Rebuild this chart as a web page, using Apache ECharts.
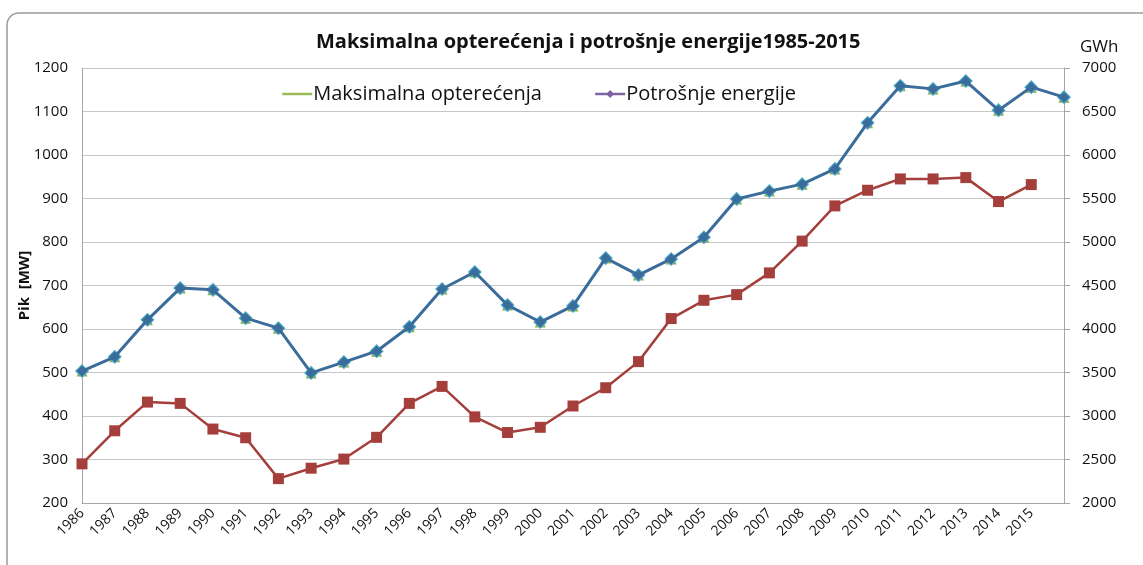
<!DOCTYPE html>
<html>
<head>
<meta charset="utf-8">
<script src="https://cdn.jsdelivr.net/npm/echarts@6/dist/echarts.min.js"></script>
<style>
html,body{margin:0;padding:0;background:#fff;}
#chart{width:1143px;height:565px;}
</style>
</head>
<body>
<div id="chart"></div>
<script>
// Category labels (x axis); the final slot carries no label in the original
var years = ['1986','1987','1988','1989','1990','1991','1992','1993','1994','1995',
  '1996','1997','1998','1999','2000','2001','2002','2003','2004','2005',
  '2006','2007','2008','2009','2010','2011','2012','2013','2014','2015'];
var extraSlot = [''];

// Peak load [MW] (left axis)
var peakMW = [290, 366, 432, 429, 370, 350, 256, 280, 301, 351,
  429, 468, 398, 362, 374, 423, 465, 525, 624, 666,
  679, 729, 802, 883, 919, 945, 945, 948, 893, 932];

// Energy consumption [GWh] (right axis), 31 points
var energyGWh = [3517, 3680, 4105, 4470, 4450, 4125, 4010, 3495, 3620, 3745,
  4025, 4460, 4655, 4275, 4080, 4265, 4815, 4620, 4805, 5055,
  5495, 5585, 5665, 5840, 6370, 6795, 6760, 6850, 6515, 6780, 6665];

var leftTicks = {min: 200, max: 1200, interval: 100};
var rightTicks = {min: 2000, max: 7000, interval: 500};

var chart = echarts.init(document.getElementById('chart'), null, {renderer: 'canvas'});
var FONT = '"Open Sans", "Noto Sans", sans-serif';
var plain = function (v) { return String(v); };

chart.setOption({
  animation: false,
  backgroundColor: '#ffffff',
  graphic: [{
    type: 'rect',
    shape: {x: 7, y: 13, width: 1160, height: 600, r: 12},
    style: {fill: 'none', stroke: '#9a9a9a', lineWidth: 1.5},
    silent: true,
    z: -1
  }],
  title: {
    text: 'Maksimalna opterećenja i potrošnje energije1985-2015',
    left: 311,
    top: 27,
    textStyle: {fontFamily: FONT, fontWeight: 'bold', fontSize: 20, color: '#111'}
  },
  legend: {
    top: 79,
    left: 276,
    itemGap: 52,
    itemWidth: 30,
    itemHeight: 10,
    textStyle: {fontFamily: FONT, fontSize: 20, color: '#111', padding: [0, 0, 0, -4]},
    data: [
      {name: 'Maksimalna opterećenja', lineStyle: {color: '#9bbb59', width: 2.5}, itemStyle: {opacity: 0}},
      {name: 'Potrošnje energije', lineStyle: {color: '#8064a2', width: 2.5}, itemStyle: {color: '#8064a2'}, icon: 'inherit'}
    ]
  },
  grid: {left: 82, right: 79, top: 68, bottom: 62, containLabel: false},
  xAxis: {
    type: 'category',
    boundaryGap: false,
    data: years.concat(extraSlot),
    axisLine: {lineStyle: {color: '#a6a6a6', width: 1}},
    axisTick: {show: false},
    axisLabel: {interval: 0, rotate: 45, fontFamily: FONT, fontSize: 14, color: '#111', margin: 8},
    splitLine: {show: false}
  },
  yAxis: [{
    type: 'value',
    min: leftTicks.min, max: leftTicks.max, interval: leftTicks.interval,
    name: 'Pik  [MW]',
    nameLocation: 'middle',
    nameGap: 50,
    nameMoveOverlap: false,
    nameTextStyle: {fontFamily: FONT, fontWeight: 'bold', fontSize: 15, color: '#111'},
    axisLine: {show: true, lineStyle: {color: '#a6a6a6', width: 1}},
    axisTick: {show: false},
    axisLabel: {fontFamily: FONT, fontSize: 15, color: '#111', margin: 14, formatter: plain},
    splitLine: {show: true, lineStyle: {color: '#c6c6c6', width: 1.2}}
  }, {
    type: 'value',
    min: rightTicks.min, max: rightTicks.max, interval: rightTicks.interval,
    name: 'GWh',
    nameLocation: 'end',
    nameGap: 12,
    nameTextStyle: {fontFamily: FONT, fontSize: 17, color: '#111', align: 'left', padding: [0, 0, 0, 16]},
    position: 'right',
    axisLine: {show: true, lineStyle: {color: '#a6a6a6', width: 1}},
    axisTick: {show: true, length: 6, lineStyle: {color: '#a6a6a6'}},
    axisLabel: {fontFamily: FONT, fontSize: 15, color: '#111', margin: 18, formatter: plain},
    splitLine: {show: false}
  }],
  series: [{
    name: 'marker-under-green',
    type: 'line',
    yAxisIndex: 1,
    data: energyGWh,
    symbol: 'triangle',
    symbolSize: 11,
    lineStyle: {opacity: 0},
    itemStyle: {color: '#8fb04a'},
    z: 1,
    silent: true
  }, {
    name: 'marker-under-cyan',
    type: 'line',
    yAxisIndex: 1,
    data: energyGWh,
    symbol: 'rect',
    symbolRotate: 45,
    symbolSize: 10,
    lineStyle: {opacity: 0},
    itemStyle: {color: '#4bacc6'},
    z: 1,
    silent: true
  }, {
    name: 'Potrošnje energije',
    type: 'line',
    yAxisIndex: 1,
    data: energyGWh,
    symbol: 'diamond',
    symbolSize: 11,
    showAllSymbol: true,
    lineStyle: {color: '#3b6d9c', width: 3},
    itemStyle: {color: '#3b6d9c'},
    z: 3
  }, {
    name: 'Maksimalna opterećenja',
    type: 'line',
    yAxisIndex: 0,
    data: peakMW,
    symbol: 'rect',
    symbolSize: 11,
    showAllSymbol: true,
    lineStyle: {color: '#a53f3c', width: 2.5},
    itemStyle: {color: '#a53f3c'},
    z: 3
  }]
});
</script>
</body>
</html>
